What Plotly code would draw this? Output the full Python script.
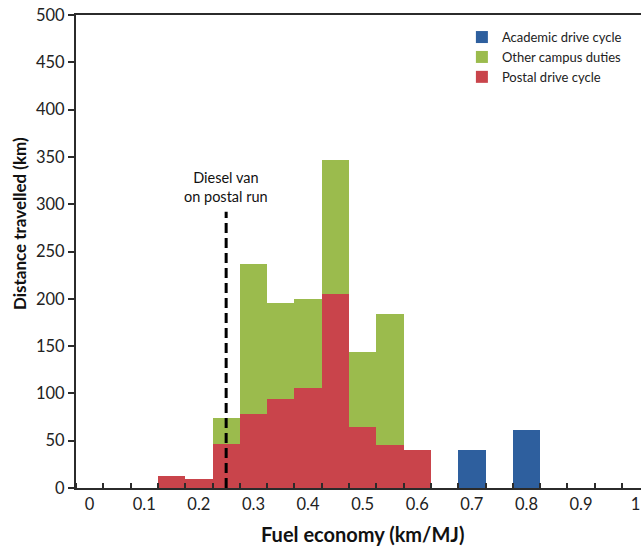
import plotly.graph_objects as go

# ---- data ----
postal_x = [0.15, 0.2, 0.25, 0.3, 0.35, 0.4, 0.45, 0.5, 0.55, 0.6]
postal_km = [13, 10, 47, 78, 94, 106, 205, 65, 45, 40]

other_x = [0.25, 0.3, 0.35, 0.4, 0.45, 0.5, 0.55]
other_km = [27, 159, 102, 94, 142, 79, 139]

academic_x = [0.7, 0.8]
academic_km = [40, 61]

x_tick_vals = [0, 0.1, 0.2, 0.3, 0.4, 0.5, 0.6, 0.7, 0.8, 0.9, 1.0]
x_tick_text = ["0", "0.1", "0.2", "0.3", "0.4", "0.5", "0.6", "0.7", "0.8", "0.9", "1"]
y_tick_vals = [0, 50, 100, 150, 200, 250, 300, 350, 400, 450, 500]

diesel_x = 0.25
diesel_top_km = 292
diesel_label = "Diesel van<br>on postal run"

bin_width = 0.05

FONT = "Lato, 'Open Sans', sans-serif"
BLUE = "#2E5F9E"
GREEN = "#9BBB4D"
RED = "#C9444B"
AXIS = "#2b2b2b"

fig = go.Figure()
fig.add_trace(go.Bar(x=postal_x, y=postal_km, width=bin_width, name="Postal drive cycle",
                     marker=dict(color=RED, line=dict(width=0))))
fig.add_trace(go.Bar(x=other_x, y=other_km, width=bin_width, name="Other campus duties",
                     marker=dict(color=GREEN, line=dict(width=0))))
fig.add_trace(go.Bar(x=academic_x, y=academic_km, width=bin_width, name="Academic drive cycle",
                     marker=dict(color=BLUE, line=dict(width=0))))

fig.add_shape(type="line", x0=diesel_x, x1=diesel_x, y0=0, y1=diesel_top_km,
              xref="x", yref="y", line=dict(color="black", width=3, dash="10px,5px"))
fig.add_annotation(x=diesel_x, y=diesel_top_km, xref="x", yref="y", text=diesel_label,
                   showarrow=False, yanchor="bottom", yshift=5,
                   font=dict(family=FONT, size=14.5, color="#111"))

fig.add_annotation(x=0.5, y=0, xref="x", yref="paper", text="<b>Fuel economy (km/MJ)</b>",
                   showarrow=False, yanchor="middle", yshift=-46,
                   font=dict(family=FONT, size=20, color="#111"))
fig.add_annotation(x=0, y=0.558, xref="paper", yref="paper", text="<b>Distance travelled (km)</b>",
                   showarrow=False, textangle=-90, xanchor="center", yanchor="middle", xshift=-57,
                   font=dict(family=FONT, size=17, color="#111"))

fig.update_layout(
    width=641, height=546,
    margin=dict(l=76, r=0, t=15, b=58),
    paper_bgcolor="white", plot_bgcolor="white",
    barmode="stack", bargap=0,
    font=dict(family=FONT, size=16, color="#222"),
    showlegend=True,
    legend=dict(x=0.683, y=0.985, xanchor="left", yanchor="top", traceorder="reversed",
                font=dict(family=FONT, size=13, color="#222"),
                bgcolor="rgba(0,0,0,0)", itemwidth=30, tracegroupgap=0),
)
fig.update_xaxes(
    range=[-0.025, 1.0098], tickmode="array", tickvals=x_tick_vals, ticktext=x_tick_text,
    ticks="", showgrid=False, zeroline=False,
    showline=True, linecolor=AXIS, linewidth=2, mirror=True,
    tickfont=dict(family=FONT, size=16.5, color="#222"),
    minor=dict(ticks="inside", tick0=-0.025, dtick=bin_width, ticklen=5, tickwidth=2,
               tickcolor=AXIS, showgrid=False),
)
fig.update_yaxes(
    range=[0, 500], tickmode="array", tickvals=y_tick_vals,
    ticks="outside", ticklen=6, tickwidth=1.5, tickcolor=AXIS,
    showgrid=False, zeroline=False,
    showline=True, linecolor=AXIS, linewidth=2, mirror=False,
    tickfont=dict(family=FONT, size=16.5, color="#222"),
)

fig.write_html("out.html")
